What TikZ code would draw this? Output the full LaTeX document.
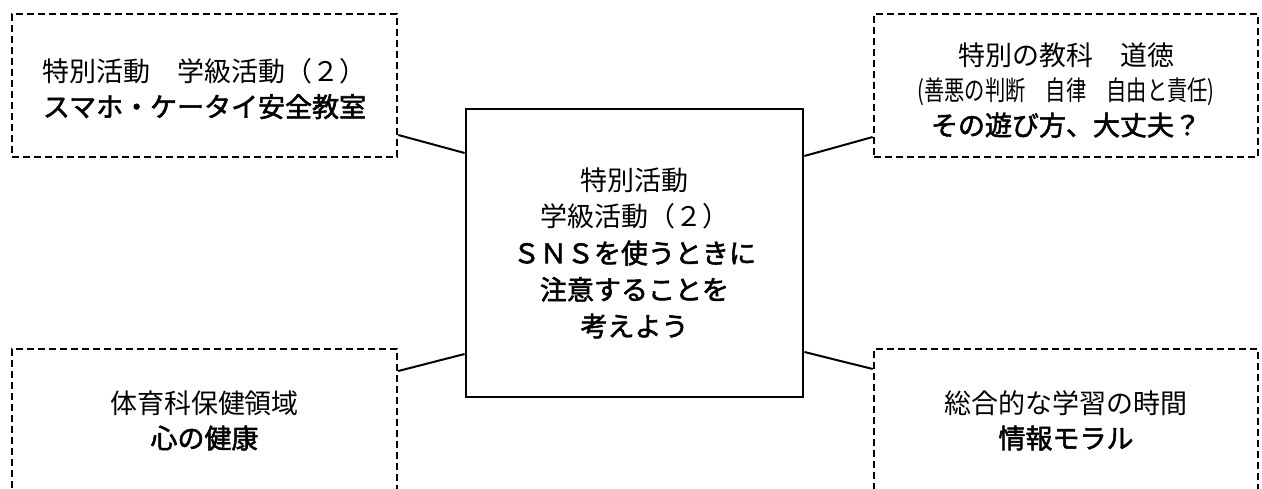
\documentclass[tikz,border=0pt]{standalone}
\usepackage{fontspec}
\newfontfamily\jp{Noto Sans CJK JP}
\newfontfamily\jpb[FakeBold=2]{Noto Sans CJK JP}
\usetikzlibrary{calc}
\newcommand{\bjp}[1]{{\jpb #1}}
\begin{document}
\begin{tikzpicture}[x=1pt,y=1pt,
  sub/.style={draw, line width=2.6pt, dash pattern=on 7pt off 4pt, inner sep=0pt,
    minimum width=385pt, minimum height=143pt, align=center,
    font=\jp\fontsize{27}{35}\selectfont},
  mainbox/.style={draw, line width=2.8pt, inner sep=0pt,
    minimum width=337pt, minimum height=288pt, align=center,
    font=\jp\fontsize{27}{36.5}\selectfont},
  conn/.style={line width=2pt}]
\clip (0,0) rectangle (1262,488);
\node[sub] (tl) at (204.5,402.5) {\rule{0pt}{30pt}特別活動　学級活動（２）\\ \bjp{スマホ・ケータイ安全教室}};
\node[sub, minimum width=384pt] (tr) at (1066,402.5) {\rule{0pt}{32pt}特別の教科　道徳\\ \scalebox{0.75}[1]{(善悪の判断　自律　自由と責任)}\\ \bjp{その遊び方、大丈夫？}};
\node[mainbox] (c) at (634.5,235) {特別活動\\ 学級活動（２）\\ \bjp{ＳＮＳを使うときに}\\ \bjp{注意することを}\\ \bjp{考えよう}};
\node[sub] (bl) at (204.5,67.5) {体育科保健領域\\ \bjp{心の健康}};
\node[sub, minimum width=384pt] (br) at (1066,67.5) {総合的な学習の時間\\ \bjp{情報モラル}};
\draw[conn] ([yshift=-49.5pt]tl.east) -- ([yshift=100pt]c.west);
\draw[conn] ([yshift=97pt]c.east) -- ([yshift=-51.5pt]tr.west);
\draw[conn] ([yshift=49.5pt]bl.east) -- ([yshift=-101pt]c.west);
\draw[conn] ([yshift=-99pt]c.east) -- ([yshift=51.5pt]br.west);
\end{tikzpicture}
\end{document}
